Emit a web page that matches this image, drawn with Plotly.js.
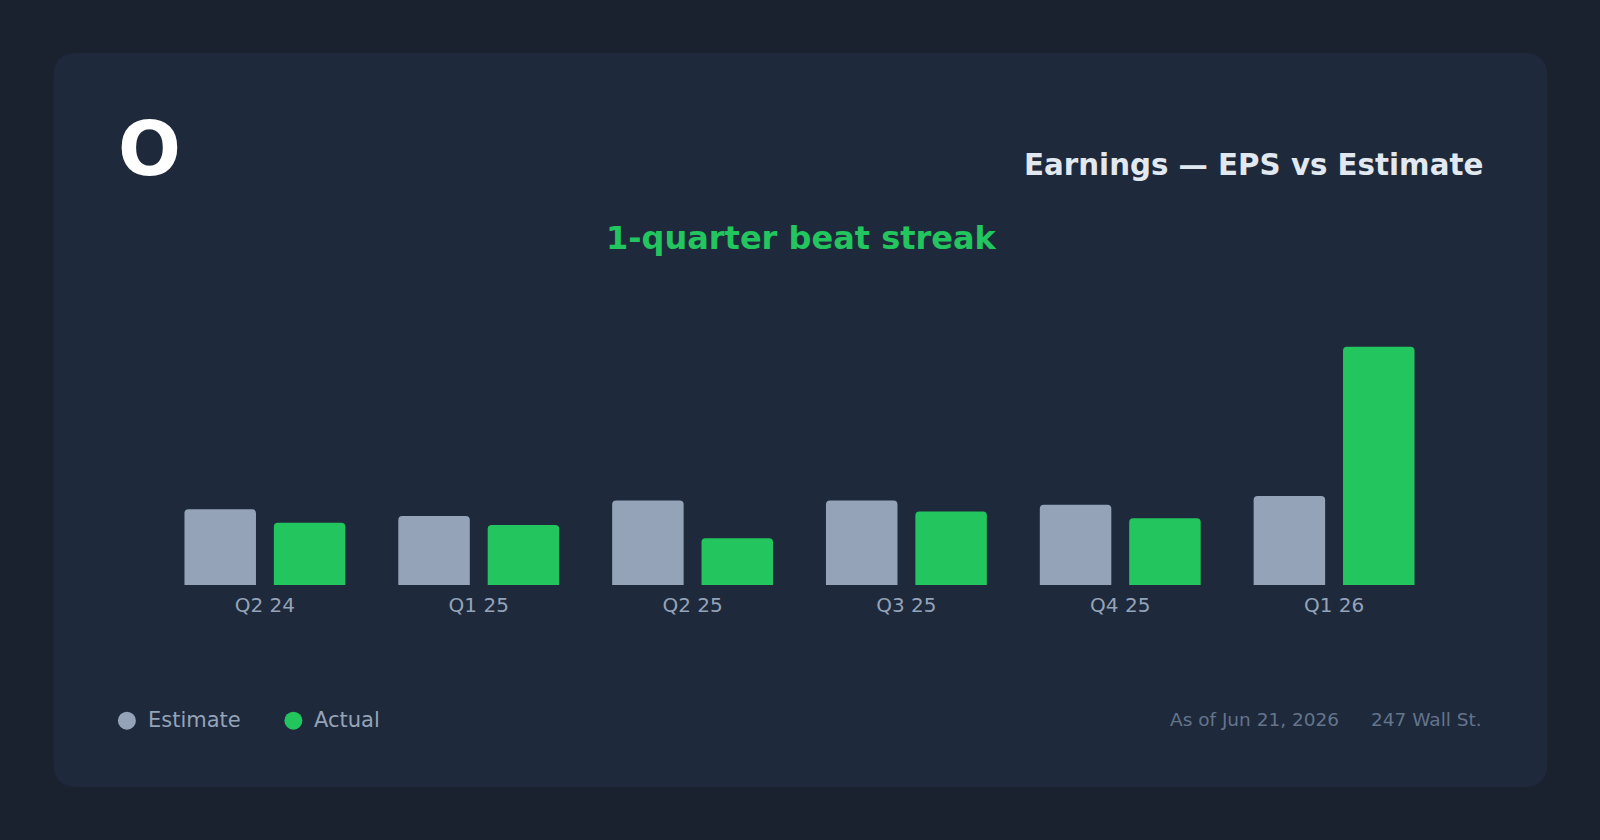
<!DOCTYPE html>
<html>
<head>
<meta charset="utf-8">
<script src="https://cdn.plot.ly/plotly-3.0.1.min.js"></script>
<style>
  html, body { margin: 0; padding: 0; background: #1a2230; }
  #chart { width: 1600px; height: 840px; }
</style>
</head>
<body>
<div id="chart"></div>
<script>
// ---- data ----
const quarters = ["Q2 24", "Q1 25", "Q2 25", "Q3 25", "Q4 25", "Q1 26"];
const estimateEPS = [0.34, 0.31, 0.38, 0.38, 0.36, 0.40];
const actualEPS   = [0.28, 0.27, 0.21, 0.33, 0.30, 1.07];
const seriesNames = ["Estimate", "Actual"];
const ticker = "O";
const chartTitle = "Earnings \u2014 EPS vs Estimate";
const subtitle = "1-quarter beat streak";
const asOf = "As of Jun 21, 2026";
const source = "247 Wall St.";

// ---- layout helpers (page pixel -> paper coords) ----
const W = 1600, H = 840;
const PL = 157.6, PR = 1440.6, PT = 300, PB = 585;
const X = px => (px - PL) / (PR - PL);
const Y = py => (PB - py) / (PB - PT);

const FONT = "DejaVu Sans, Verdana, sans-serif";
const C_EST = "#94a3b8", C_ACT = "#22c55e";

function roundRectPath(x0, y0, x1, y1, r) {
  const p = (x, y) => `${X(x)},${Y(y)}`;
  return `M ${p(x0 + r, y0)} L ${p(x1 - r, y0)} Q ${p(x1, y0)} ${p(x1, y0 + r)} ` +
         `L ${p(x1, y1 - r)} Q ${p(x1, y1)} ${p(x1 - r, y1)} ` +
         `L ${p(x0 + r, y1)} Q ${p(x0, y1)} ${p(x0, y1 - r)} ` +
         `L ${p(x0, y0 + r)} Q ${p(x0, y0)} ${p(x0 + r, y0)} Z`;
}

const traces = [
  { type: "bar", name: seriesNames[0], x: quarters, y: estimateEPS,
    marker: { color: C_EST, cornerradius: 4 }, showlegend: false, hoverinfo: "skip" },
  { type: "bar", name: seriesNames[1], x: quarters, y: actualEPS,
    marker: { color: C_ACT, cornerradius: 4 }, showlegend: false, hoverinfo: "skip" }
];

const layout = {
  width: W, height: H,
  margin: { l: PL, r: W - PR, t: PT, b: H - PB, pad: 0 },
  paper_bgcolor: "#1a2230",
  plot_bgcolor: "rgba(0,0,0,0)",
  barmode: "group",
  bargap: 0.164,
  bargroupgap: 0.2,
  font: { family: FONT, color: C_EST },
  xaxis: {
    type: "category", range: [-0.5, 5.5], showgrid: false, zeroline: false, showline: false,
    ticks: "", tickfont: { size: 20, color: C_EST, family: FONT }, ticklabelstandoff: 6, fixedrange: true
  },
  yaxis: {
    range: [0, 1.28], showgrid: false, zeroline: false, showline: false,
    showticklabels: false, ticks: "", fixedrange: true
  },
  shapes: [
    { type: "path", xref: "paper", yref: "paper", layer: "below",
      path: roundRectPath(53, 53, 1547, 787, 24),
      fillcolor: "#1e293b", line: { width: 0 } },
    { type: "circle", xref: "paper", yref: "paper",
      x0: X(117.5), x1: X(135.5), y0: Y(711.7), y1: Y(729.7),
      fillcolor: C_EST, line: { width: 0 } },
    { type: "circle", xref: "paper", yref: "paper",
      x0: X(284), x1: X(302), y0: Y(711.7), y1: Y(729.7),
      fillcolor: C_ACT, line: { width: 0 } }
  ],
  annotations: [
    { text: ticker, xref: "paper", yref: "paper", x: X(116), y: Y(149), xanchor: "left", yanchor: "middle",
      showarrow: false, font: { family: FONT, size: 74, color: "#ffffff", weight: "bold" } },
    { text: chartTitle, xref: "paper", yref: "paper", x: X(1485), y: Y(165), xanchor: "right", yanchor: "middle",
      showarrow: false, font: { family: FONT, size: 29.3, color: "#e2e8f0", weight: "bold" } },
    { text: subtitle, xref: "paper", yref: "paper", x: X(801), y: Y(238), xanchor: "center", yanchor: "middle",
      showarrow: false, font: { family: FONT, size: 32, color: C_ACT, weight: "bold" } },
    { text: seriesNames[0], xref: "paper", yref: "paper", x: X(145.5), y: Y(719.5), xanchor: "left", yanchor: "middle",
      showarrow: false, font: { family: FONT, size: 21, color: C_EST } },
    { text: seriesNames[1], xref: "paper", yref: "paper", x: X(311.5), y: Y(719.5), xanchor: "left", yanchor: "middle",
      showarrow: false, font: { family: FONT, size: 21, color: C_EST } },
    { text: source, xref: "paper", yref: "paper", x: X(1484), y: Y(719), xanchor: "right", yanchor: "middle",
      showarrow: false, font: { family: FONT, size: 18.5, color: "#64748b" } },
    { text: asOf, xref: "paper", yref: "paper", x: X(1341), y: Y(719), xanchor: "right", yanchor: "middle",
      showarrow: false, font: { family: FONT, size: 18.5, color: "#64748b" } }
  ]
};

Plotly.newPlot("chart", traces, layout, { displayModeBar: false, staticPlot: true });
</script>
</body>
</html>
